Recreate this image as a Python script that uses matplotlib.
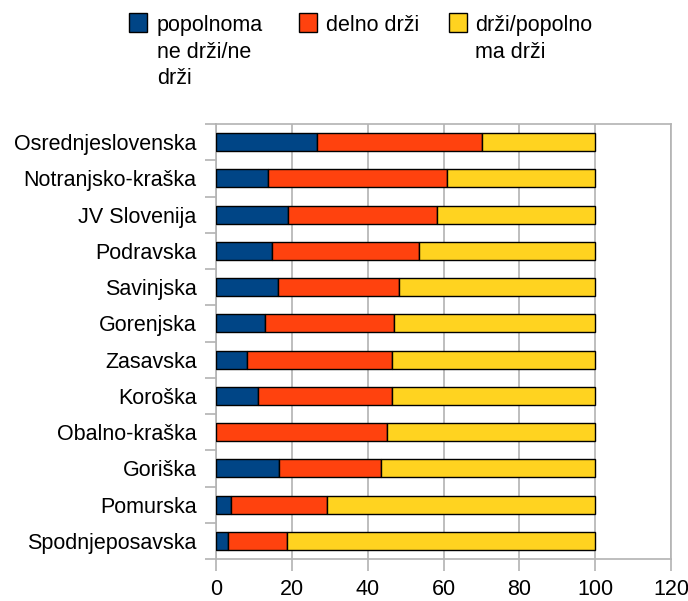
import matplotlib
matplotlib.use("Agg")
import matplotlib.pyplot as plt
from matplotlib.patches import Rectangle
import numpy as np

categories = ["Osrednjeslovenska", "Notranjsko-kraška", "JV Slovenija", "Podravska",
              "Savinjska", "Gorenjska", "Zasavska", "Koroška", "Obalno-kraška",
              "Goriška", "Pomurska", "Spodnjeposavska"]
ne_drzi = [26.7, 13.7, 19.1, 14.9, 16.3, 12.8, 8.3, 11.1, 0.0, 16.6, 4.0, 3.1]
delno = [43.4, 47.2, 39.3, 38.6, 31.9, 34.1, 38.0, 35.3, 45.0, 26.8, 25.3, 15.6]
drzi = [29.9, 39.1, 41.6, 46.5, 51.8, 53.1, 53.7, 53.6, 55.0, 56.6, 70.7, 81.3]
series_labels = ["popolnoma\nne drži/ne\ndrži", "delno drži", "drži/popolno\nma drži"]
colors = ["#004586", "#ff420e", "#ffd320"]
xticks = [0, 20, 40, 60, 80, 100, 120]

plt.rcParams['font.family'] = ['Liberation Sans', 'DejaVu Sans']
FS = 15.5
W, H = 688, 601
fig = plt.figure(figsize=(W/100, H/100), dpi=100)
ax = fig.add_axes([216/W, 1-559/H, (671-216)/W, (559-124)/H])

y = np.arange(len(categories))
left = np.zeros(len(categories))
for vals, c, lab in zip([ne_drzi, delno, drzi], colors, series_labels):
    vals = np.array(vals)
    ax.barh(y, vals, left=left, height=0.5, color=c, edgecolor="black", linewidth=1.0, label=lab, zorder=3)
    left += vals

ax.set_xlim(0, 120)
ax.set_ylim(len(categories) - 0.5, -0.5)
ax.set_xticks(xticks)
ax.set_yticks(y)
ax.set_yticklabels(categories)
ax.set_yticks(np.arange(-0.5, len(categories)), minor=True)
ax.tick_params(axis='y', which='major', length=0, pad=14, labelsize=FS)
ax.tick_params(axis='y', which='minor', length=8, color="#b3b3b3", width=1.2)
ax.tick_params(axis='x', length=8.5, color="#b3b3b3", width=1.2, pad=6, labelsize=FS)
ax.grid(axis='x', color="#b3b3b3", linewidth=1.2, zorder=0)
for s in ax.spines.values():
    s.set_color("#b3b3b3")
    s.set_linewidth(1.2)

# legend (manual, top-aligned like the reference)
sq_x = [129, 299, 449]
txt_x = [157, 326, 475]
for sx, tx, c, lab in zip(sq_x, txt_x, colors, series_labels):
    fig.add_artist(Rectangle((sx/W, 1-32/H), 18/W, 19/H, transform=fig.transFigure,
                             facecolor=c, edgecolor="black", linewidth=1.0))
    fig.text(tx/W, 1-15/H, lab, fontsize=FS, va="top", ha="left", linespacing=1.35)

fig.savefig("out.png", dpi=100)
